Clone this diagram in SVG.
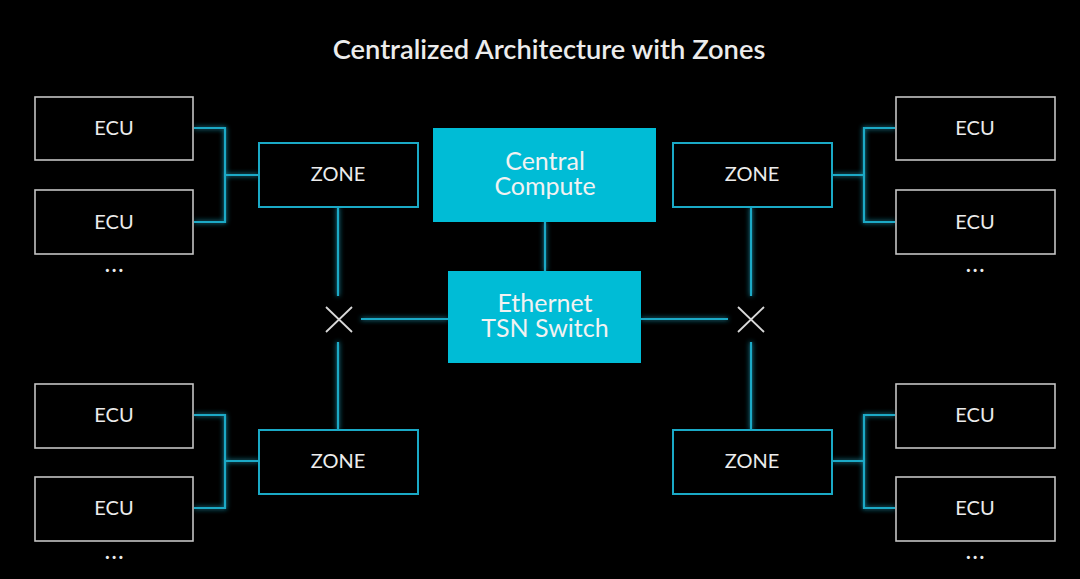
<svg xmlns="http://www.w3.org/2000/svg" width="1080" height="579" viewBox="0 0 1080 579">
<defs>
<style>
text{font-family:Lato,"Open Sans","Liberation Sans",sans-serif;fill:#ececec;text-anchor:middle}
.ecu{fill:#000;stroke:#c4c4c4;stroke-width:1.6}
.zone{fill:#000;stroke:#1aa9c6;stroke-width:2}
.core{fill:#00bcd6}
.lbl{font-size:20px}
.big{font-size:25px;fill:#f2f2f2}
.ln{fill:none;stroke:#1aa9c6;stroke-width:2.2}
.x{stroke:#d8d8d8;stroke-width:1.8}
.dots{font-size:20px;font-weight:bold;letter-spacing:2px}
</style>
<filter id="glow" x="-20%" y="-20%" width="140%" height="140%">
<feGaussianBlur stdDeviation="2.5" result="b"/>
<feMerge><feMergeNode in="b"/><feMergeNode in="SourceGraphic"/></feMerge>
</filter>
</defs>
<rect width="1080" height="579" fill="#000"/>
<text x="549" y="59" style="font-size:27.3px;font-weight:600">Centralized Architecture with Zones</text>

<g id="connectors" filter="url(#glow)">
<path class="ln" d="M194 128H225V222H194M225 175H259"/>
<path class="ln" d="M194 415H225V508H194M225 461H259"/>
<path class="ln" d="M895 128H864V222H895M864 175H832"/>
<path class="ln" d="M895 415H864V508H895M864 461H832"/>
<path class="ln" d="M338 207V296M338 342V430"/>
<path class="ln" d="M751 207V296M751 342V430"/>
<path class="ln" d="M361 319H448M641 319H728"/>
<path class="ln" d="M545 222V271"/>
</g>

<g id="switch-left"><path class="x" d="M326 307L352 332M352 307L326 332"/></g>
<g id="switch-right"><path class="x" d="M738 307L764 332M764 307L738 332"/></g>

<g id="ecu-tl1"><rect class="ecu" x="35" y="97" width="158" height="63"/><text class="lbl" x="114" y="135">ECU</text></g>
<g id="ecu-tl2"><rect class="ecu" x="35" y="190" width="158" height="64"/><text class="lbl" x="114" y="229">ECU</text></g>
<text class="dots" x="115" y="272">...</text>
<g id="ecu-bl1"><rect class="ecu" x="35" y="384" width="158" height="64"/><text class="lbl" x="114" y="422">ECU</text></g>
<g id="ecu-bl2"><rect class="ecu" x="35" y="477" width="158" height="64"/><text class="lbl" x="114" y="515">ECU</text></g>
<text class="dots" x="115" y="559">...</text>

<g id="ecu-tr1"><rect class="ecu" x="896" y="97" width="159" height="63"/><text class="lbl" x="975" y="135">ECU</text></g>
<g id="ecu-tr2"><rect class="ecu" x="896" y="190" width="159" height="64"/><text class="lbl" x="975" y="229">ECU</text></g>
<text class="dots" x="976" y="272">...</text>
<g id="ecu-br1"><rect class="ecu" x="896" y="384" width="159" height="64"/><text class="lbl" x="975" y="422">ECU</text></g>
<g id="ecu-br2"><rect class="ecu" x="896" y="477" width="159" height="64"/><text class="lbl" x="975" y="515">ECU</text></g>
<text class="dots" x="976" y="559">...</text>

<g id="zone-tl"><rect class="zone" x="259" y="143" width="159" height="64"/><text class="lbl" x="338" y="181">ZONE</text></g>
<g id="zone-bl"><rect class="zone" x="259" y="430" width="159" height="64"/><text class="lbl" x="338" y="468">ZONE</text></g>
<g id="zone-tr"><rect class="zone" x="673" y="143" width="159" height="64"/><text class="lbl" x="752" y="181">ZONE</text></g>
<g id="zone-br"><rect class="zone" x="673" y="430" width="159" height="64"/><text class="lbl" x="752" y="468">ZONE</text></g>

<g id="central-compute"><rect class="core" x="433" y="128" width="223" height="94"/>
<text class="big" x="545" y="170">Central</text><text class="big" x="545" y="195">Compute</text></g>
<g id="tsn-switch"><rect class="core" x="448" y="271" width="193" height="92"/>
<text class="big" x="545" y="312">Ethernet</text><text class="big" x="545" y="337">TSN Switch</text></g>
</svg>
